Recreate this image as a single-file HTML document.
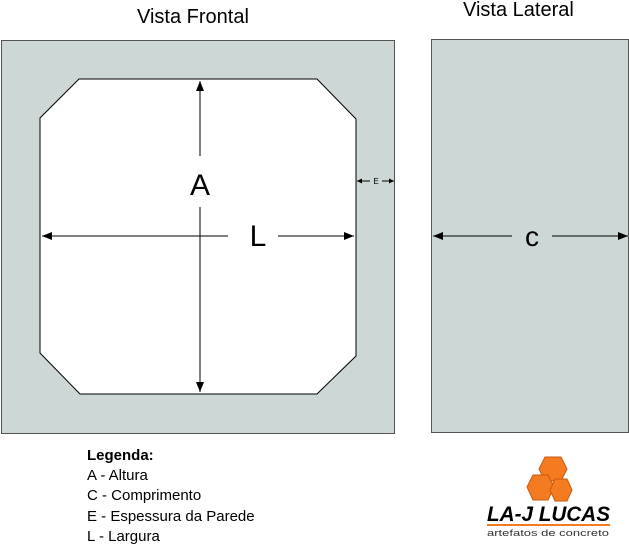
<!DOCTYPE html>
<html><head><meta charset="utf-8"><style>
body{margin:0;background:#fff;width:629px;height:544px;overflow:hidden}
</style></head><body>
<svg width="629" height="544" viewBox="0 0 629 544" xmlns="http://www.w3.org/2000/svg" font-family="Liberation Sans, sans-serif">
<defs>
<marker id="ar" markerWidth="10" markerHeight="8" refX="10" refY="4" orient="auto-start-reverse" markerUnits="userSpaceOnUse">
<path d="M0,0 L10,4 L0,8 z" fill="#000"/></marker>
<marker id="as" markerWidth="5" markerHeight="5" refX="5" refY="2.5" orient="auto-start-reverse" markerUnits="userSpaceOnUse">
<path d="M0,0 L5,2.5 L0,5 z" fill="#000"/></marker>
</defs>
<text x="137" y="23" font-size="20">Vista Frontal</text>
<text x="463" y="16" font-size="20">Vista Lateral</text>
<rect x="1.5" y="40.5" width="393" height="393" fill="#cdd7d5" stroke="#555" stroke-width="1"/>
<polygon points="79,79 317,79 356,119 356,356 317,394 80,394 40,353 40,118" fill="#fff" stroke="#000" stroke-width="1"/>
<line x1="200" y1="81" x2="200" y2="156" stroke="#000" marker-start="url(#ar)"/>
<line x1="200" y1="207" x2="200" y2="392" stroke="#000" marker-end="url(#ar)"/>
<text x="200" y="195" font-size="30" text-anchor="middle">A</text>
<line x1="42" y1="236" x2="228" y2="236" stroke="#000" marker-start="url(#ar)"/>
<line x1="278" y1="236" x2="354" y2="236" stroke="#000" marker-end="url(#ar)"/>
<text x="258" y="246" font-size="30" text-anchor="middle">L</text>
<line x1="357" y1="181" x2="370" y2="181" stroke="#000" marker-start="url(#as)"/>
<line x1="382" y1="181" x2="394" y2="181" stroke="#000" marker-end="url(#as)"/>
<text x="376" y="184" font-size="8" text-anchor="middle">E</text>
<rect x="431.5" y="39.5" width="197" height="393" fill="#cdd7d5" stroke="#555" stroke-width="1"/>
<line x1="433" y1="236" x2="512" y2="236" stroke="#000" marker-start="url(#ar)"/>
<line x1="552" y1="236" x2="628" y2="236" stroke="#000" marker-end="url(#ar)"/>
<text x="532" y="246" font-size="28" text-anchor="middle">c</text>
<g font-size="15">
<text x="87" y="460" font-weight="bold">Legenda:</text>
<text x="87" y="480">A - Altura</text>
<text x="87" y="500">C - Comprimento</text>
<text x="87" y="521">E - Espessura da Parede</text>
<text x="87" y="541">L - Largura</text>
</g>
<g>
<polygon points="545,457 561,457 567,469 561,481 545,481 539,469" fill="#f47b20" stroke="#c85a10"/>
<polygon points="533,475 548,475 554,487 548,500 533,500 527,487" fill="#f47b20" stroke="#c85a10"/>
<polygon points="555,479 567,479 572,490 567,501 555,501 550,490" fill="#f47b20" stroke="#c85a10"/>
</g>
<text x="487" y="521" font-size="21" font-weight="bold" font-style="italic" textLength="123" lengthAdjust="spacingAndGlyphs">LA-J LUCAS</text>
<rect x="487" y="524" width="123" height="2" fill="#f47b20"/>
<text x="487" y="536" font-size="9" fill="#333" textLength="122" lengthAdjust="spacingAndGlyphs">artefatos de concreto</text>
</svg>
</body></html>
